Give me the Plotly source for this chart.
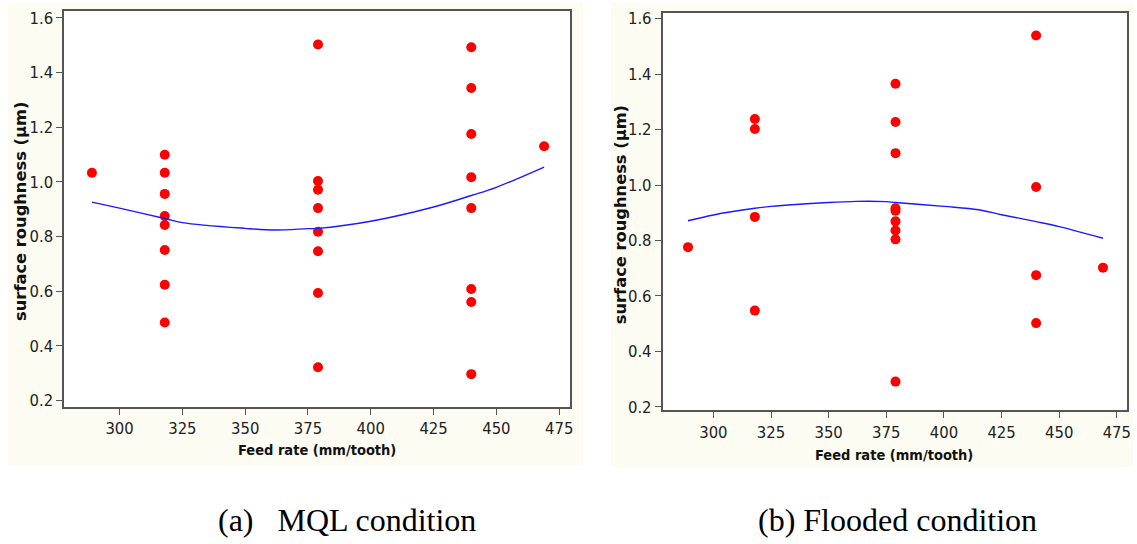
import plotly.graph_objects as go

# Feed rate levels (mm/tooth) and measured surface roughness (µm)
mql_feed = [289, 318, 318, 318, 318, 318, 318, 318, 318,
            379, 379, 379, 379, 379, 379, 379, 379,
            440, 440, 440, 440, 440, 440, 440, 440, 469]
mql_ra = [1.033, 1.099, 1.033, 0.956, 0.875, 0.842, 0.751, 0.624, 0.486,
          1.502, 1.003, 0.971, 0.904, 0.818, 0.746, 0.594, 0.322,
          1.492, 1.343, 1.175, 1.017, 0.904, 0.608, 0.561, 0.297, 1.130]

flood_feed = [289, 318, 318, 318, 318,
              379, 379, 379, 379, 379, 379, 379, 379, 379,
              440, 440, 440, 440, 469]
flood_ra = [0.776, 1.238, 1.202, 0.885, 0.547,
            1.365, 1.227, 1.115, 0.916, 0.907, 0.869, 0.836, 0.804, 0.291,
            1.539, 0.993, 0.675, 0.502, 0.702]

# Fitted trend lines
mql_fit_x = [289, 300, 318, 325, 350, 362, 375, 379, 400, 425, 440, 450, 469]
mql_fit_y = [0.926, 0.904, 0.866, 0.851, 0.830, 0.824, 0.829, 0.830, 0.856, 0.908, 0.950, 0.980, 1.054]

flood_fit_x = [289, 300, 318, 325, 350, 362, 375, 379, 400, 415, 425, 440, 450, 469]
flood_fit_y = [0.871, 0.892, 0.916, 0.923, 0.937, 0.941, 0.940, 0.937, 0.923, 0.911, 0.893, 0.868, 0.850, 0.808]

x_ticks = [300, 325, 350, 375, 400, 425, 450, 475]
y_ticks = [0.2, 0.4, 0.6, 0.8, 1.0, 1.2, 1.4, 1.6]

W, H = 1137, 544
def px(x):
    return x / W
def py(y):
    return 1 - y / H

NARROW = "DejaVu Sans Condensed, Liberation Sans Narrow, Arial Narrow, sans-serif"
TICK_FONT = dict(family=NARROW, size=16.5, color="#222222")
RED = "#ff0000"
BLUE = "#1a1aff"
FRAME = "#555555"

fig = go.Figure()

fig.add_trace(go.Scatter(x=mql_feed, y=mql_ra, mode="markers",
                         marker=dict(color=RED, size=10, line=dict(width=0)),
                         xaxis="x", yaxis="y", showlegend=False))
fig.add_trace(go.Scatter(x=mql_fit_x, y=mql_fit_y, mode="lines",
                         line=dict(color=BLUE, width=1.4, shape="spline"),
                         xaxis="x", yaxis="y", showlegend=False))
fig.add_trace(go.Scatter(x=flood_feed, y=flood_ra, mode="markers",
                         marker=dict(color=RED, size=10, line=dict(width=0)),
                         xaxis="x2", yaxis="y2", showlegend=False))
fig.add_trace(go.Scatter(x=flood_fit_x, y=flood_fit_y, mode="lines",
                         line=dict(color=BLUE, width=1.4, shape="spline"),
                         xaxis="x2", yaxis="y2", showlegend=False))

def xaxis_cfg(domain, anchor):
    return dict(domain=domain, anchor=anchor, range=[278, 479.3],
                tickmode="array", tickvals=x_ticks, ticktext=[str(v) for v in x_ticks],
                ticks="outside", ticklen=6, tickwidth=1.2, tickcolor=FRAME,
                showline=True, linecolor=FRAME, linewidth=1.6, mirror=True,
                showgrid=False, zeroline=False, tickfont=TICK_FONT)

def yaxis_cfg(domain, anchor, rng):
    return dict(domain=domain, anchor=anchor, range=rng,
                tickmode="array", tickvals=y_ticks, ticktext=[f"{v:.1f}" for v in y_ticks],
                ticks="outside", ticklen=6, tickwidth=1.2, tickcolor=FRAME,
                showline=True, linecolor=FRAME, linewidth=1.6, mirror=True,
                showgrid=False, zeroline=False, tickfont=TICK_FONT)

xt_font = dict(family=NARROW, size=14.5, color="#111111", weight="bold")
yt_font = dict(family="DejaVu Sans, Verdana, sans-serif", size=16.3, color="#111111", weight="bold")
cap_font = dict(family="Liberation Serif, Times New Roman, serif", size=32, color="#000000")

annotations = [
    dict(text="Feed rate (mm/tooth)", x=px(318), y=py(455), xref="paper", yref="paper",
         showarrow=False, font=xt_font, xanchor="center", yanchor="middle"),
    dict(text="Feed rate (mm/tooth)", x=px(897), y=py(460), xref="paper", yref="paper",
         showarrow=False, font=xt_font, xanchor="center", yanchor="middle"),
    dict(text="surface roughness (µm)", x=px(20.5), y=py(212), xref="paper", yref="paper",
         showarrow=False, font=yt_font, textangle=-90, xanchor="center", yanchor="middle"),
    dict(text="surface roughness (µm)", x=px(623), y=py(215), xref="paper", yref="paper",
         showarrow=False, font=yt_font, textangle=-90, xanchor="center", yanchor="middle"),
    dict(text="(a)\u00a0\u00a0\u00a0MQL condition", x=px(348), y=py(526), xref="paper", yref="paper",
         showarrow=False, font=cap_font, xanchor="center", yanchor="middle"),
    dict(text="(b) Flooded condition", x=px(901), y=py(526), xref="paper", yref="paper",
         showarrow=False, font=cap_font, xanchor="center", yanchor="middle"),
]

# Faint panel backgrounds with the plotting area cut out (even-odd fill)
CREAM = "#fcfcf3"

def panel_path(ox0, oy0, ox1, oy1, ix0, iy0, ix1, iy1):
    def r(x0, y0, x1, y1):
        return (f"M{px(x0)},{py(y0)} L{px(x1)},{py(y0)} L{px(x1)},{py(y1)} "
                f"L{px(x0)},{py(y1)} Z")
    return r(ox0, oy0, ox1, oy1) + " " + r(ix0, iy0, ix1, iy1)

shapes = [
    dict(type="path", xref="paper", yref="paper",
         path=panel_path(8, 0, 585, 470, 64.5, 8.3, 572, 410.5),
         fillcolor=CREAM, fillrule="evenodd", line=dict(width=0), layer="below"),
    dict(type="path", xref="paper", yref="paper",
         path=panel_path(613, 0, 1137, 472, 665, 10, 1130.7, 414.3),
         fillcolor=CREAM, fillrule="evenodd", line=dict(width=0), layer="below"),
]

fig.update_layout(
    width=W, height=H,
    margin=dict(l=0, r=0, t=0, b=0),
    paper_bgcolor="white", plot_bgcolor="white",
    xaxis=xaxis_cfg([px(64.5), px(572)], "y"),
    yaxis=yaxis_cfg([py(410.5), py(8.3)], "x", [0.178, 1.624]),
    xaxis2=xaxis_cfg([px(665), px(1130.7)], "y2"),
    yaxis2=yaxis_cfg([py(414.3), py(10)], "x2", [0.187, 1.621]),
    annotations=annotations, shapes=shapes,
    showlegend=False,
)

fig.write_html("out.html")
